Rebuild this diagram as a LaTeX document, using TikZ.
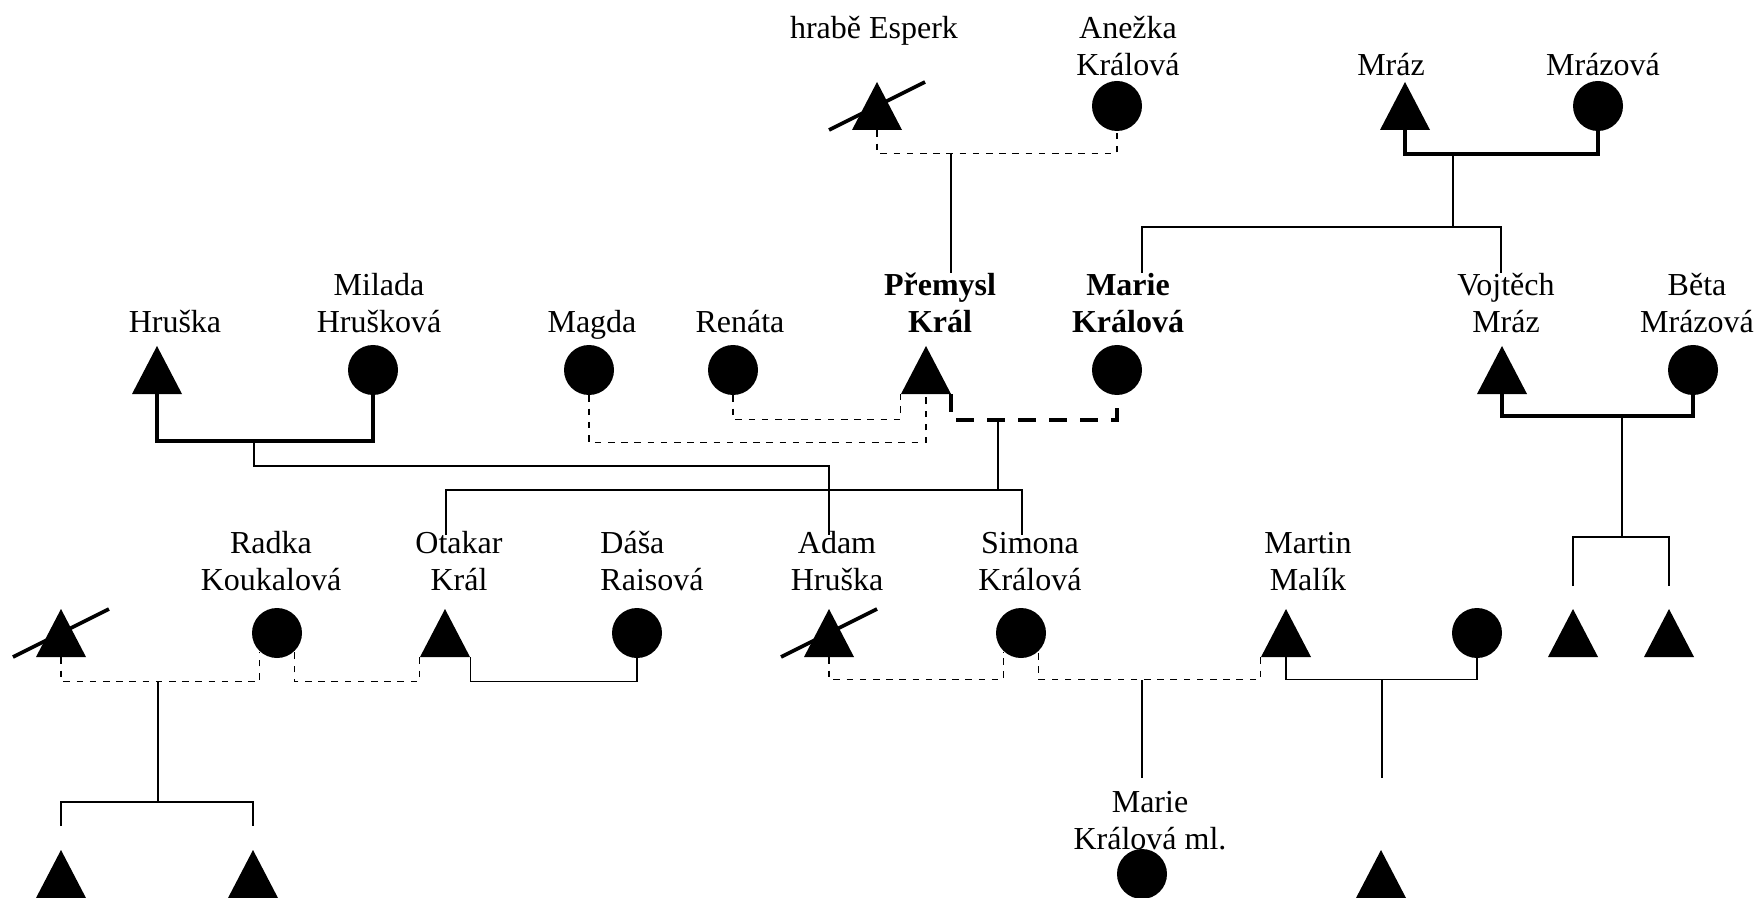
\documentclass[tikz,border=0pt]{standalone}
\usepackage{fontspec}
\setmainfont{Liberation Serif}

\begin{document}
\begin{tikzpicture}[x=0.5pt, y=-0.5pt,
    male/.style={rectangle, fill=white, minimum width=25pt, minimum height=24pt, inner sep=0pt,
      path picture={\fill[black] (path picture bounding box.south west)
        -- (path picture bounding box.south east) -- (path picture bounding box.north) -- cycle;}},
    fem/.style={circle, fill=black, minimum size=25pt, inner sep=0pt},
    lab/.style={font=\fontsize{16}{18.5}\selectfont, inner sep=0pt, align=center, anchor=base},
    labb/.style={lab, font=\fontsize{16}{18.5}\selectfont\bfseries},
    ln/.style={line width=0.8pt},
    dl/.style={line width=0.8pt, dash pattern=on 3.3pt off 3.3pt},
    tl/.style={line width=2pt},
    tdl/.style={line width=2pt, dash pattern=on 9pt off 6.5pt},
    sl/.style={line width=1.8pt}]
  \useasboundingbox (0,0) rectangle (1760,898);
  % people
  \node[male] (esperk) at (877,106) {};
  \node[fem] (anezka) at (1117,106) {};
  \node[male] (mraz) at (1405,106) {};
  \node[fem] (mrazova) at (1598,106) {};
  \node[male] (hruska) at (157,370) {};
  \node[fem] (milada) at (373,370) {};
  \node[fem] (magda) at (589,370) {};
  \node[fem] (renata) at (733,370) {};
  \node[male] (premysl) at (926,370) {};
  \node[fem] (marie) at (1117,370) {};
  \node[male] (vojtech) at (1502,370) {};
  \node[fem] (beta) at (1693,370) {};
  \node[male] (koukal) at (61,633) {};
  \node[fem] (radka) at (277,633) {};
  \node[male] (otakar) at (445,633) {};
  \node[fem] (dasa) at (637,633) {};
  \node[male] (adam) at (829,633) {};
  \node[fem] (simona) at (1021,633) {};
  \node[male] (martin) at (1286,633) {};
  \node[fem] (malikova) at (1477,633) {};
  \node[male] (mrazA) at (1573,633) {};
  \node[male] (mrazB) at (1669,633) {};
  \node[male] (koukalA) at (61,874) {};
  \node[male] (koukalB) at (253,874) {};
  \node[fem] (marieml) at (1142,874) {};
  \node[male] (malik) at (1381,874) {};
  % names
  \node[lab] (esperkL) at (874,39) {hrabě Esperk};
  \node[lab] (anezkaL) at (1128,76) {Anežka\\Králová};
  \node[lab] (mrazL) at (1391,76) {Mráz};
  \node[lab] (mrazovaL) at (1603,76) {Mrázová};
  \node[lab] (hruskaL) at (175,333) {Hruška};
  \node[lab] (miladaL) at (379,333) {Milada\\Hrušková};
  \node[lab] (magdaL) at (592,333) {Magda};
  \node[lab] (renataL) at (740,333) {Renáta};
  \node[labb] (premyslL) at (940,333) {Přemysl\\Král};
  \node[labb] (marieL) at (1128,333) {Marie\\Králová};
  \node[lab] (vojtechL) at (1506,333) {Vojtěch\\Mráz};
  \node[lab] (betaL) at (1697,333) {Běta\\Mrázová};
  \node[lab] (radkaL) at (271,590) {Radka\\Koukalová};
  \node[lab] (otakarL) at (459,590) {Otakar\\Král};
  \node[lab, align=left] (dasaL) at (652,590) {Dáša\\Raisová};
  \node[lab] (adamL) at (837,590) {Adam\\Hruška};
  \node[lab] (simonaL) at (1030,590) {Simona\\Králová};
  \node[lab] (martinL) at (1308,590) {Martin\\Malík};
  \node[lab] (marieMlL) at (1150,849) {Marie\\Králová ml.};
  % line ends
  \coordinate (kEA) at (951,153);
  \coordinate (tPr) at (951,273);
  \coordinate (kM) at (1453,154);
  \coordinate (tMa) at (1142,273);
  \coordinate (tVo) at (1501,273);
  \coordinate (kH) at (254,442);
  \coordinate (tAd) at (829,535);
  \coordinate (kPM) at (998,420);
  \coordinate (tOt) at (446,535);
  \coordinate (tSi) at (1022,535);
  \coordinate (kV) at (1622,416);
  \coordinate (tV1) at (1573,586);
  \coordinate (tV2) at (1669,586);
  \coordinate (kR) at (158,682);
  \coordinate (tR1) at (61,826);
  \coordinate (tR2) at (253,826);
  \coordinate (kSM) at (1142,680);
  \coordinate (tMl) at (1142,778);
  \coordinate (kMM) at (1382,680);
  \coordinate (tMk) at (1382,778);
  % couples and children
  \draw[dl] (esperk.south) -- ++(0,23) -| (anezka.south);
  \draw[tl] (mraz.south) -- ++(0,24) -| (mrazova.south);
  \draw[ln] (kEA) -- (tPr);
  \draw[ln] (kM) -- ++(0,73) coordinate (jM);
  \draw[ln] (tMa) |- (jM) -| (tVo);
  \draw[tl] (hruska.south) -- ++(0,47) -| (milada.south);
  \draw[dl] (magda.south) -- ++(0,47) -| (premysl.south);
  \draw[dl] (renata.south) -- ++(0,24) -| (premysl.south west);
  \draw[tdl] (premysl.south east) -- ++(0,26) -| (marie.south);
  \draw[tl] (vojtech.south) -- ++(0,22) -| (beta.south);
  \draw[ln] (kH) -- ++(0,24) -| (tAd);
  \draw[ln] (kPM) -- ++(0,70) coordinate (jPM);
  \draw[ln] (tOt) |- (jPM) -| (tSi);
  \draw[ln] (kV) -- ++(0,121) coordinate (jV);
  \draw[ln] (tV1) |- (jV) -| (tV2);
  \draw[dl] (koukal.south) -- ++(0,24) -| (radka.227);
  \draw[dl] (otakar.south west) -- ++(0,24) -| (radka.313);
  \draw[ln] (otakar.south east) -- ++(0,24) -| (dasa.south);
  \draw[dl] (adam.south) -- ++(0,22) -| (simona.227);
  \draw[dl] (martin.south west) -- ++(0,22) -| (simona.313);
  \draw[ln] (martin.south) -- ++(0,22) -| (malikova.south);
  \draw[ln] (kR) -- ++(0,120) coordinate (jR);
  \draw[ln] (tR1) |- (jR) -| (tR2);
  \draw[ln] (kSM) -- (tMl);
  \draw[ln] (kMM) -- (tMk);
  \foreach \n in {esperk,koukal,adam}
    \draw[sl] ([shift={(-48,24)}]\n.center) -- ([shift={(48,-24)}]\n.center);
\end{tikzpicture}
\end{document}
